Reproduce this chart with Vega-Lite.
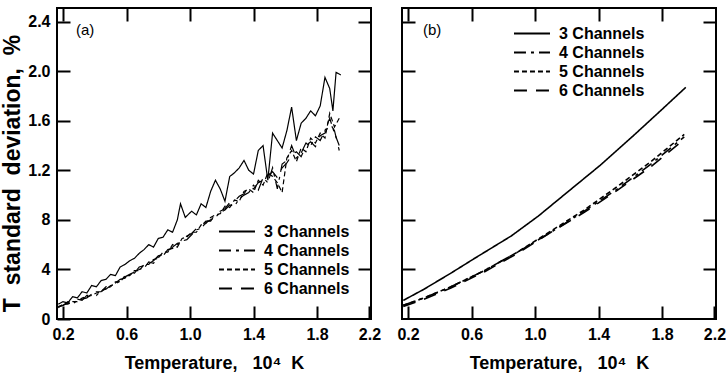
{
 "$schema": "https://vega.github.io/schema/vega-lite/v6.json",
 "padding": {"left": 0, "top": 6, "right": 2, "bottom": 2},
 "bounds": "flush",
 "spacing": 31,
 "resolve": {"scale": {"strokeDash": "independent"}, "legend": {"strokeDash": "independent"}},
 "config": {
  "font": "Liberation Sans",
  "view": {"stroke": "black", "strokeWidth": 2},
  "axis": {"domain": false, "grid": false, "ticks": true, "offset": -13, "tickColor": "black", "tickOpacity": 1, "tickWidth": 2, "tickSize": 13, "labelPadding": 7, "labelColor": "black", "titleColor": "black", "labelFont": "Liberation Sans", "labelFontSize": 16, "labelFontWeight": "bold", "titleFontWeight": "bold", "titleFont": "Liberation Sans", "labelFlush": false, "labelOverlap": false, "zindex": 1},
  "legend": {"symbolType": "stroke", "symbolSize": 1300, "symbolStrokeWidth": 1.8, "symbolStrokeColor": "black", "labelFont": "Liberation Sans", "labelFontSize": 16, "labelFontWeight": "bold", "labelColor": "black", "labelOffset": 8, "rowPadding": 2, "clipHeight": 17, "labelLimit": 300}
 },
 "datasets": {
  "a": [
   {"t":0.17,"sd":0.12,"ch":"3 Channels"},{"t":0.20,"sd":0.14,"ch":"3 Channels"},{"t":0.23,"sd":0.13,"ch":"3 Channels"},{"t":0.26,"sd":0.18,"ch":"3 Channels"},{"t":0.29,"sd":0.17,"ch":"3 Channels"},{"t":0.32,"sd":0.22,"ch":"3 Channels"},{"t":0.35,"sd":0.21,"ch":"3 Channels"},{"t":0.38,"sd":0.27,"ch":"3 Channels"},{"t":0.41,"sd":0.26,"ch":"3 Channels"},{"t":0.44,"sd":0.31,"ch":"3 Channels"},{"t":0.47,"sd":0.32,"ch":"3 Channels"},{"t":0.50,"sd":0.36,"ch":"3 Channels"},{"t":0.53,"sd":0.35,"ch":"3 Channels"},{"t":0.56,"sd":0.42,"ch":"3 Channels"},{"t":0.59,"sd":0.44,"ch":"3 Channels"},{"t":0.62,"sd":0.47,"ch":"3 Channels"},{"t":0.65,"sd":0.49,"ch":"3 Channels"},{"t":0.68,"sd":0.53,"ch":"3 Channels"},{"t":0.71,"sd":0.56,"ch":"3 Channels"},{"t":0.74,"sd":0.60,"ch":"3 Channels"},{"t":0.77,"sd":0.58,"ch":"3 Channels"},{"t":0.80,"sd":0.65,"ch":"3 Channels"},{"t":0.83,"sd":0.66,"ch":"3 Channels"},{"t":0.86,"sd":0.72,"ch":"3 Channels"},{"t":0.89,"sd":0.70,"ch":"3 Channels"},{"t":0.92,"sd":0.80,"ch":"3 Channels"},{"t":0.94,"sd":0.93,"ch":"3 Channels"},{"t":0.97,"sd":0.82,"ch":"3 Channels"},{"t":1.01,"sd":0.87,"ch":"3 Channels"},{"t":1.04,"sd":0.84,"ch":"3 Channels"},{"t":1.07,"sd":0.93,"ch":"3 Channels"},{"t":1.10,"sd":0.90,"ch":"3 Channels"},{"t":1.13,"sd":1.03,"ch":"3 Channels"},{"t":1.16,"sd":1.12,"ch":"3 Channels"},{"t":1.19,"sd":1.05,"ch":"3 Channels"},{"t":1.22,"sd":0.95,"ch":"3 Channels"},{"t":1.25,"sd":1.15,"ch":"3 Channels"},{"t":1.28,"sd":1.18,"ch":"3 Channels"},{"t":1.31,"sd":1.22,"ch":"3 Channels"},{"t":1.34,"sd":1.28,"ch":"3 Channels"},{"t":1.37,"sd":1.20,"ch":"3 Channels"},{"t":1.40,"sd":1.17,"ch":"3 Channels"},{"t":1.43,"sd":1.36,"ch":"3 Channels"},{"t":1.46,"sd":1.40,"ch":"3 Channels"},{"t":1.49,"sd":1.12,"ch":"3 Channels"},{"t":1.52,"sd":1.50,"ch":"3 Channels"},{"t":1.55,"sd":1.44,"ch":"3 Channels"},{"t":1.58,"sd":1.38,"ch":"3 Channels"},{"t":1.61,"sd":1.52,"ch":"3 Channels"},{"t":1.64,"sd":1.71,"ch":"3 Channels"},{"t":1.67,"sd":1.44,"ch":"3 Channels"},{"t":1.70,"sd":1.58,"ch":"3 Channels"},{"t":1.73,"sd":1.62,"ch":"3 Channels"},{"t":1.76,"sd":1.68,"ch":"3 Channels"},{"t":1.79,"sd":1.64,"ch":"3 Channels"},{"t":1.82,"sd":1.72,"ch":"3 Channels"},{"t":1.85,"sd":1.95,"ch":"3 Channels"},{"t":1.88,"sd":1.86,"ch":"3 Channels"},{"t":1.90,"sd":1.68,"ch":"3 Channels"},{"t":1.92,"sd":1.99,"ch":"3 Channels"},{"t":1.95,"sd":1.97,"ch":"3 Channels"},
   {"t":0.17,"sd":0.10,"ch":"4 Channels"},{"t":0.20,"sd":0.11,"ch":"4 Channels"},{"t":0.23,"sd":0.13,"ch":"4 Channels"},{"t":0.26,"sd":0.12,"ch":"4 Channels"},{"t":0.29,"sd":0.15,"ch":"4 Channels"},{"t":0.32,"sd":0.16,"ch":"4 Channels"},{"t":0.35,"sd":0.17,"ch":"4 Channels"},{"t":0.38,"sd":0.20,"ch":"4 Channels"},{"t":0.41,"sd":0.19,"ch":"4 Channels"},{"t":0.44,"sd":0.23,"ch":"4 Channels"},{"t":0.47,"sd":0.24,"ch":"4 Channels"},{"t":0.50,"sd":0.27,"ch":"4 Channels"},{"t":0.53,"sd":0.28,"ch":"4 Channels"},{"t":0.56,"sd":0.31,"ch":"4 Channels"},{"t":0.59,"sd":0.34,"ch":"4 Channels"},{"t":0.62,"sd":0.36,"ch":"4 Channels"},{"t":0.65,"sd":0.38,"ch":"4 Channels"},{"t":0.68,"sd":0.40,"ch":"4 Channels"},{"t":0.71,"sd":0.41,"ch":"4 Channels"},{"t":0.74,"sd":0.46,"ch":"4 Channels"},{"t":0.77,"sd":0.45,"ch":"4 Channels"},{"t":0.80,"sd":0.50,"ch":"4 Channels"},{"t":0.83,"sd":0.51,"ch":"4 Channels"},{"t":0.86,"sd":0.56,"ch":"4 Channels"},{"t":0.89,"sd":0.57,"ch":"4 Channels"},{"t":0.92,"sd":0.60,"ch":"4 Channels"},{"t":0.95,"sd":0.63,"ch":"4 Channels"},{"t":0.98,"sd":0.64,"ch":"4 Channels"},{"t":1.01,"sd":0.68,"ch":"4 Channels"},{"t":1.04,"sd":0.72,"ch":"4 Channels"},{"t":1.07,"sd":0.73,"ch":"4 Channels"},{"t":1.10,"sd":0.78,"ch":"4 Channels"},{"t":1.13,"sd":0.80,"ch":"4 Channels"},{"t":1.16,"sd":0.82,"ch":"4 Channels"},{"t":1.19,"sd":0.86,"ch":"4 Channels"},{"t":1.22,"sd":0.88,"ch":"4 Channels"},{"t":1.25,"sd":0.92,"ch":"4 Channels"},{"t":1.28,"sd":0.91,"ch":"4 Channels"},{"t":1.31,"sd":0.97,"ch":"4 Channels"},{"t":1.34,"sd":1.00,"ch":"4 Channels"},{"t":1.37,"sd":1.02,"ch":"4 Channels"},{"t":1.40,"sd":1.08,"ch":"4 Channels"},{"t":1.43,"sd":1.04,"ch":"4 Channels"},{"t":1.46,"sd":1.14,"ch":"4 Channels"},{"t":1.49,"sd":1.10,"ch":"4 Channels"},{"t":1.52,"sd":1.22,"ch":"4 Channels"},{"t":1.55,"sd":1.05,"ch":"4 Channels"},{"t":1.58,"sd":1.25,"ch":"4 Channels"},{"t":1.61,"sd":1.28,"ch":"4 Channels"},{"t":1.64,"sd":1.40,"ch":"4 Channels"},{"t":1.67,"sd":1.30,"ch":"4 Channels"},{"t":1.70,"sd":1.34,"ch":"4 Channels"},{"t":1.73,"sd":1.42,"ch":"4 Channels"},{"t":1.76,"sd":1.40,"ch":"4 Channels"},{"t":1.79,"sd":1.47,"ch":"4 Channels"},{"t":1.82,"sd":1.44,"ch":"4 Channels"},{"t":1.85,"sd":1.52,"ch":"4 Channels"},{"t":1.88,"sd":1.62,"ch":"4 Channels"},{"t":1.91,"sd":1.50,"ch":"4 Channels"},{"t":1.94,"sd":1.40,"ch":"4 Channels"},
   {"t":0.17,"sd":0.09,"ch":"5 Channels"},{"t":0.20,"sd":0.12,"ch":"5 Channels"},{"t":0.23,"sd":0.12,"ch":"5 Channels"},{"t":0.26,"sd":0.14,"ch":"5 Channels"},{"t":0.29,"sd":0.14,"ch":"5 Channels"},{"t":0.32,"sd":0.17,"ch":"5 Channels"},{"t":0.35,"sd":0.18,"ch":"5 Channels"},{"t":0.38,"sd":0.19,"ch":"5 Channels"},{"t":0.41,"sd":0.21,"ch":"5 Channels"},{"t":0.44,"sd":0.22,"ch":"5 Channels"},{"t":0.47,"sd":0.25,"ch":"5 Channels"},{"t":0.50,"sd":0.26,"ch":"5 Channels"},{"t":0.53,"sd":0.30,"ch":"5 Channels"},{"t":0.56,"sd":0.30,"ch":"5 Channels"},{"t":0.59,"sd":0.35,"ch":"5 Channels"},{"t":0.62,"sd":0.35,"ch":"5 Channels"},{"t":0.65,"sd":0.39,"ch":"5 Channels"},{"t":0.68,"sd":0.39,"ch":"5 Channels"},{"t":0.71,"sd":0.44,"ch":"5 Channels"},{"t":0.74,"sd":0.44,"ch":"5 Channels"},{"t":0.77,"sd":0.48,"ch":"5 Channels"},{"t":0.80,"sd":0.49,"ch":"5 Channels"},{"t":0.83,"sd":0.54,"ch":"5 Channels"},{"t":0.86,"sd":0.54,"ch":"5 Channels"},{"t":0.89,"sd":0.60,"ch":"5 Channels"},{"t":0.92,"sd":0.58,"ch":"5 Channels"},{"t":0.95,"sd":0.65,"ch":"5 Channels"},{"t":0.98,"sd":0.66,"ch":"5 Channels"},{"t":1.01,"sd":0.70,"ch":"5 Channels"},{"t":1.04,"sd":0.70,"ch":"5 Channels"},{"t":1.07,"sd":0.76,"ch":"5 Channels"},{"t":1.10,"sd":0.77,"ch":"5 Channels"},{"t":1.13,"sd":0.82,"ch":"5 Channels"},{"t":1.16,"sd":0.84,"ch":"5 Channels"},{"t":1.19,"sd":0.85,"ch":"5 Channels"},{"t":1.22,"sd":0.91,"ch":"5 Channels"},{"t":1.25,"sd":0.90,"ch":"5 Channels"},{"t":1.28,"sd":0.96,"ch":"5 Channels"},{"t":1.31,"sd":0.95,"ch":"5 Channels"},{"t":1.34,"sd":1.03,"ch":"5 Channels"},{"t":1.37,"sd":1.05,"ch":"5 Channels"},{"t":1.40,"sd":1.02,"ch":"5 Channels"},{"t":1.43,"sd":1.12,"ch":"5 Channels"},{"t":1.46,"sd":1.08,"ch":"5 Channels"},{"t":1.49,"sd":1.18,"ch":"5 Channels"},{"t":1.52,"sd":1.15,"ch":"5 Channels"},{"t":1.55,"sd":1.10,"ch":"5 Channels"},{"t":1.58,"sd":1.02,"ch":"5 Channels"},{"t":1.61,"sd":1.30,"ch":"5 Channels"},{"t":1.64,"sd":1.36,"ch":"5 Channels"},{"t":1.67,"sd":1.27,"ch":"5 Channels"},{"t":1.70,"sd":1.38,"ch":"5 Channels"},{"t":1.73,"sd":1.35,"ch":"5 Channels"},{"t":1.76,"sd":1.46,"ch":"5 Channels"},{"t":1.79,"sd":1.42,"ch":"5 Channels"},{"t":1.82,"sd":1.50,"ch":"5 Channels"},{"t":1.85,"sd":1.46,"ch":"5 Channels"},{"t":1.88,"sd":1.66,"ch":"5 Channels"},{"t":1.91,"sd":1.55,"ch":"5 Channels"},{"t":1.94,"sd":1.62,"ch":"5 Channels"},
   {"t":0.17,"sd":0.10,"ch":"6 Channels"},{"t":0.20,"sd":0.11,"ch":"6 Channels"},{"t":0.23,"sd":0.14,"ch":"6 Channels"},{"t":0.26,"sd":0.13,"ch":"6 Channels"},{"t":0.29,"sd":0.16,"ch":"6 Channels"},{"t":0.32,"sd":0.15,"ch":"6 Channels"},{"t":0.35,"sd":0.19,"ch":"6 Channels"},{"t":0.38,"sd":0.19,"ch":"6 Channels"},{"t":0.41,"sd":0.22,"ch":"6 Channels"},{"t":0.44,"sd":0.22,"ch":"6 Channels"},{"t":0.47,"sd":0.26,"ch":"6 Channels"},{"t":0.50,"sd":0.27,"ch":"6 Channels"},{"t":0.53,"sd":0.29,"ch":"6 Channels"},{"t":0.56,"sd":0.32,"ch":"6 Channels"},{"t":0.59,"sd":0.33,"ch":"6 Channels"},{"t":0.62,"sd":0.37,"ch":"6 Channels"},{"t":0.65,"sd":0.37,"ch":"6 Channels"},{"t":0.68,"sd":0.42,"ch":"6 Channels"},{"t":0.71,"sd":0.43,"ch":"6 Channels"},{"t":0.74,"sd":0.45,"ch":"6 Channels"},{"t":0.77,"sd":0.47,"ch":"6 Channels"},{"t":0.80,"sd":0.51,"ch":"6 Channels"},{"t":0.83,"sd":0.52,"ch":"6 Channels"},{"t":0.86,"sd":0.55,"ch":"6 Channels"},{"t":0.89,"sd":0.58,"ch":"6 Channels"},{"t":0.92,"sd":0.61,"ch":"6 Channels"},{"t":0.95,"sd":0.62,"ch":"6 Channels"},{"t":0.98,"sd":0.67,"ch":"6 Channels"},{"t":1.01,"sd":0.69,"ch":"6 Channels"},{"t":1.04,"sd":0.73,"ch":"6 Channels"},{"t":1.07,"sd":0.75,"ch":"6 Channels"},{"t":1.10,"sd":0.79,"ch":"6 Channels"},{"t":1.13,"sd":0.79,"ch":"6 Channels"},{"t":1.16,"sd":0.85,"ch":"6 Channels"},{"t":1.19,"sd":0.87,"ch":"6 Channels"},{"t":1.22,"sd":0.89,"ch":"6 Channels"},{"t":1.25,"sd":0.94,"ch":"6 Channels"},{"t":1.28,"sd":0.95,"ch":"6 Channels"},{"t":1.31,"sd":0.99,"ch":"6 Channels"},{"t":1.34,"sd":1.01,"ch":"6 Channels"},{"t":1.37,"sd":1.07,"ch":"6 Channels"},{"t":1.40,"sd":1.05,"ch":"6 Channels"},{"t":1.43,"sd":1.10,"ch":"6 Channels"},{"t":1.46,"sd":1.12,"ch":"6 Channels"},{"t":1.49,"sd":1.15,"ch":"6 Channels"},{"t":1.52,"sd":1.19,"ch":"6 Channels"},{"t":1.55,"sd":1.14,"ch":"6 Channels"},{"t":1.58,"sd":1.22,"ch":"6 Channels"},{"t":1.61,"sd":1.26,"ch":"6 Channels"},{"t":1.64,"sd":1.32,"ch":"6 Channels"},{"t":1.67,"sd":1.35,"ch":"6 Channels"},{"t":1.70,"sd":1.31,"ch":"6 Channels"},{"t":1.73,"sd":1.40,"ch":"6 Channels"},{"t":1.76,"sd":1.43,"ch":"6 Channels"},{"t":1.79,"sd":1.39,"ch":"6 Channels"},{"t":1.82,"sd":1.48,"ch":"6 Channels"},{"t":1.85,"sd":1.50,"ch":"6 Channels"},{"t":1.88,"sd":1.58,"ch":"6 Channels"},{"t":1.91,"sd":1.52,"ch":"6 Channels"},{"t":1.94,"sd":1.36,"ch":"6 Channels"}
  ],
  "b": [
   {"t":0.17,"sd":0.15,"ch":"3 Channels"},{"t":0.30,"sd":0.24,"ch":"3 Channels"},{"t":0.47,"sd":0.37,"ch":"3 Channels"},{"t":0.62,"sd":0.49,"ch":"3 Channels"},{"t":0.85,"sd":0.67,"ch":"3 Channels"},{"t":1.02,"sd":0.83,"ch":"3 Channels"},{"t":1.21,"sd":1.03,"ch":"3 Channels"},{"t":1.41,"sd":1.24,"ch":"3 Channels"},{"t":1.62,"sd":1.48,"ch":"3 Channels"},{"t":1.79,"sd":1.68,"ch":"3 Channels"},{"t":1.95,"sd":1.87,"ch":"3 Channels"},
   {"t":0.17,"sd":0.11,"ch":"4 Channels"},{"t":0.30,"sd":0.17,"ch":"4 Channels"},{"t":0.47,"sd":0.26,"ch":"4 Channels"},{"t":0.68,"sd":0.39,"ch":"4 Channels"},{"t":0.89,"sd":0.54,"ch":"4 Channels"},{"t":1.10,"sd":0.70,"ch":"4 Channels"},{"t":1.31,"sd":0.87,"ch":"4 Channels"},{"t":1.52,"sd":1.05,"ch":"4 Channels"},{"t":1.73,"sd":1.25,"ch":"4 Channels"},{"t":1.94,"sd":1.47,"ch":"4 Channels"},
   {"t":0.17,"sd":0.11,"ch":"5 Channels"},{"t":0.30,"sd":0.17,"ch":"5 Channels"},{"t":0.47,"sd":0.26,"ch":"5 Channels"},{"t":0.68,"sd":0.39,"ch":"5 Channels"},{"t":0.89,"sd":0.54,"ch":"5 Channels"},{"t":1.10,"sd":0.71,"ch":"5 Channels"},{"t":1.31,"sd":0.88,"ch":"5 Channels"},{"t":1.52,"sd":1.07,"ch":"5 Channels"},{"t":1.73,"sd":1.27,"ch":"5 Channels"},{"t":1.94,"sd":1.49,"ch":"5 Channels"},
   {"t":0.17,"sd":0.10,"ch":"6 Channels"},{"t":0.30,"sd":0.16,"ch":"6 Channels"},{"t":0.47,"sd":0.25,"ch":"6 Channels"},{"t":0.68,"sd":0.38,"ch":"6 Channels"},{"t":0.89,"sd":0.53,"ch":"6 Channels"},{"t":1.10,"sd":0.70,"ch":"6 Channels"},{"t":1.31,"sd":0.86,"ch":"6 Channels"},{"t":1.52,"sd":1.04,"ch":"6 Channels"},{"t":1.73,"sd":1.23,"ch":"6 Channels"},{"t":1.94,"sd":1.45,"ch":"6 Channels"}
  ]
 },
 "hconcat": [
  {
   "width": 314, "height": 311,
   "title": {"text": "(a)", "anchor": "start", "frame": "group", "orient": "top", "offset": -43, "dx": 19, "fontSize": 15, "fontWeight": "normal", "baseline": "alphabetic", "color": "black", "font": "Liberation Sans"},
   "data": {"name": "a"},
   "layer": [
    {"mark": {"type": "line", "color": "black", "strokeWidth": 1.2},
     "encoding": {
      "x": {"field": "t", "type": "quantitative", "scale": {"domain": [0.162, 2.14], "nice": false, "zero": false},
       "axis": {"orient": "bottom", "tickColor": "black", "tickWidth": 2, "values": [0.2, 0.6, 1.0, 1.4, 1.8, 2.13], "labelExpr": "datum.value > 2 ? '2.2' : format(datum.value, '.1f')", "title": "Temperature,\u00a0\u00a0 10⁴\u00a0 K", "titleFontSize": 18, "titlePadding": 12,
        "encode": {"ticks": {"update": {"opacity": {"signal": "datum.value > 2 ? 0 : 1"}}}}}},
      "y": {"field": "sd", "type": "quantitative", "scale": {"domain": [0, 2.51], "nice": false},
       "axis": {"orient": "left", "values": [0, 0.4, 0.8, 1.2, 1.6, 2.0, 2.4], "labelExpr": "datum.value == 0 ? '0' : datum.value < 1 ? format(datum.value * 10, 'd') : format(datum.value, '.1f')", "title": "T\u00a0 standard\u00a0 deviation,\u00a0 %", "titleFontSize": 23, "titleY": 165, "titlePadding": 3}},
      "strokeDash": {"field": "ch", "type": "nominal", "scale": {"domain": ["3 Channels", "4 Channels", "5 Channels", "6 Channels"], "range": [[1, 0], [12, 5, 3, 5], [5, 3], [13, 9]]},
       "legend": {"title": null, "orient": "none", "legendX": 161, "legendY": 215}}
     }},
    {"mark": {"type": "line", "opacity": 0},
     "encoding": {
      "x": {"field": "t", "type": "quantitative", "scale": {"domain": [0.162, 2.14], "nice": false, "zero": false}, "axis": {"orient": "top", "offset": 0, "tickSize": -13, "tickColor": "black", "tickWidth": 2, "values": [0.2, 0.6, 1.0, 1.4, 1.8], "labels": false, "title": null}},
      "y": {"field": "sd", "type": "quantitative", "scale": {"domain": [0, 2.51], "nice": false}, "axis": {"orient": "right", "values": [0.4, 0.8, 1.2, 1.6, 2.0, 2.4], "labels": false, "title": null}}
     }}
   ],
   "resolve": {"axis": {"x": "independent", "y": "independent"}}
  },
  {
   "width": 314, "height": 311,
   "title": {"text": "(b)", "anchor": "start", "frame": "group", "orient": "top", "offset": -43, "dx": 21, "fontSize": 15, "fontWeight": "normal", "baseline": "alphabetic", "color": "black", "font": "Liberation Sans"},
   "data": {"name": "b"},
   "layer": [
    {"mark": {"type": "line", "color": "black", "strokeWidth": 1.6},
     "encoding": {
      "x": {"field": "t", "type": "quantitative", "scale": {"domain": [0.162, 2.14], "nice": false, "zero": false},
       "axis": {"orient": "bottom", "tickColor": "black", "tickWidth": 2, "values": [0.2, 0.6, 1.0, 1.4, 1.8, 2.13], "labelExpr": "datum.value > 2 ? '2.2' : format(datum.value, '.1f')", "title": "Temperature,\u00a0\u00a0 10⁴\u00a0 K", "titleFontSize": 18, "titlePadding": 12,
        "encode": {"ticks": {"update": {"opacity": {"signal": "datum.value > 2 ? 0 : 1"}}}}}},
      "y": {"field": "sd", "type": "quantitative", "scale": {"domain": [0, 2.51], "nice": false},
       "axis": {"orient": "left", "values": [0.4, 0.8, 1.2, 1.6, 2.0, 2.4], "labels": false, "title": null}},
      "strokeDash": {"field": "ch", "type": "nominal", "scale": {"domain": ["3 Channels", "4 Channels", "5 Channels", "6 Channels"], "range": [[1, 0], [12, 5, 3, 5], [5, 3], [13, 9]]},
       "legend": {"title": null, "orient": "none", "legendX": 111, "legendY": 17}}
     }},
    {"mark": {"type": "line", "opacity": 0},
     "encoding": {
      "x": {"field": "t", "type": "quantitative", "scale": {"domain": [0.162, 2.14], "nice": false, "zero": false}, "axis": {"orient": "top", "offset": 0, "tickSize": -13, "tickColor": "black", "tickWidth": 2, "values": [0.2, 0.6, 1.0, 1.4, 1.8], "labels": false, "title": null}},
      "y": {"field": "sd", "type": "quantitative", "scale": {"domain": [0, 2.51], "nice": false}, "axis": {"orient": "right", "values": [0.4, 0.8, 1.2, 1.6, 2.0, 2.4], "labels": false, "title": null}}
     }}
   ],
   "resolve": {"axis": {"x": "independent", "y": "independent"}}
  }
 ]
}
